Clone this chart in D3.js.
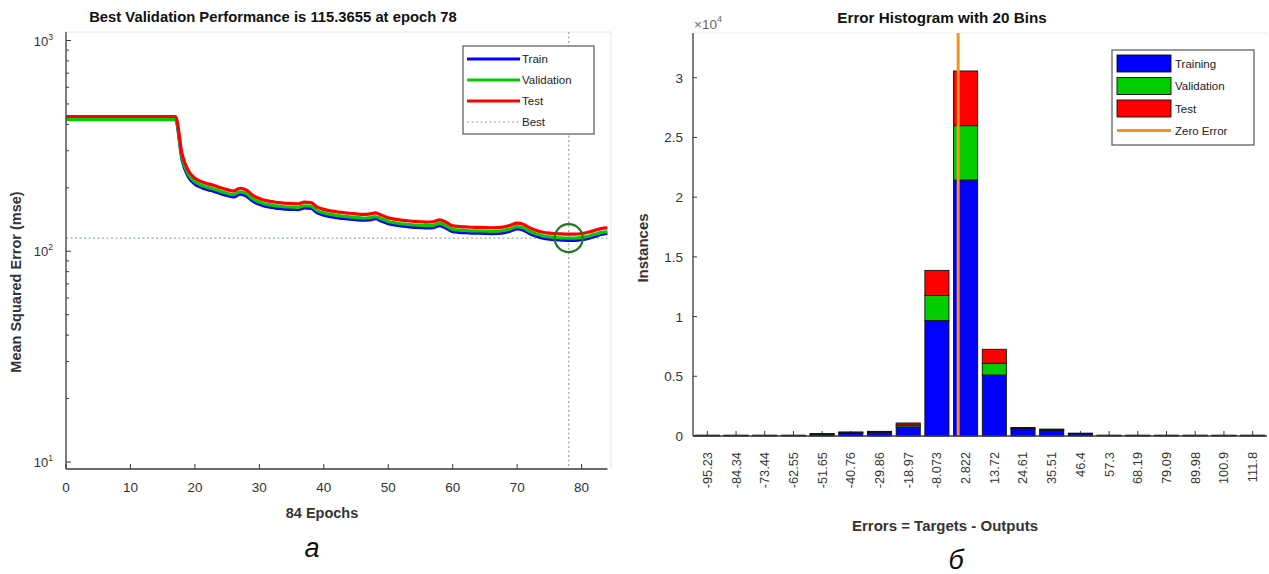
<!DOCTYPE html>
<html><head><meta charset="utf-8">
<script src="https://cdn.jsdelivr.net/npm/d3@7"></script>
<style>
body{margin:0;background:#fff;}
svg{display:block;}
text{font-family:"Liberation Sans",Arial,Helvetica,sans-serif;}
</style>
</head><body>
<svg id="c" width="1269" height="574"></svg>
<script>
// ---------- Data: performance (MSE per epoch 0..84) ----------
const trainPerf = [425,425,425,425,425,425,425,425,425,425,425,425,425,425,425,425,425,425,
  272,225,208,200.8,196,192.2,187.6,183.9,181,186.6,182.9,172.7,167,163.2,161.4,159.5,158.5,158,157.6,
  160.4,159.5,152,148.3,145.9,144.4,143,142.1,141.2,140.3,140.7,142.6,138.8,135.1,133.2,131.8,130.8,
  129.9,129.5,129,129.5,132.3,128.5,123.9,122.9,122.4,122,121.8,121.5,121.3,121.5,122.4,124.8,127.6,
  125.7,121,117.8,115.4,114.1,113.4,112.9,112.6,112.7,113.5,115,117.5,120,121.5];
const valPerf = [421,421,421,421,421,421,421,421,421,421,421,421,421,421,421,421,421,421,
  279,231,213.5,205.8,201,197,192.3,188.5,185.6,191.3,187.5,177,171.2,167.3,165.4,163.5,162.5,162,161.5,
  164.4,163.5,155.8,152,149.5,148,146.6,145.7,144.7,143.8,144.2,146.2,142.3,138.5,136.5,135.1,134.1,
  133.2,132.7,132.2,132.7,135.6,131.7,127,126,125.5,125,124.8,124.5,124.3,124.5,125.5,127.9,130.8,
  128.8,124,120.7,118.3,117,116.2,115.7,115.3655,115.5,116.3,117.8,120.2,122.6,123.5];
const testPerf = [436,436,436,436,436,436,436,436,436,436,436,436,436,436,436,436,436,436,
  290,240,222,214,209,205,200,196,193,199,195,184,178,174,172,170,169,168.5,168,
  171,170,162,158,155.5,154,152.5,151.5,150.5,149.5,150,152,148,144,142,140.5,139.5,
  138.5,138,137.5,138,141,137,132,131,130.5,130,129.8,129.5,129.3,129.5,130.5,133,136,
  134,129,125.5,123,121.8,121.2,120.8,120.5,120.6,121.4,123,125.5,128,129];
const bestEpoch = 78;
const bestVal = 115.3655;
const perfXTicks = [0,10,20,30,40,50,60,70,80];
const perfYMajor = [10,100,1000];
const perfYMinor = [20,30,40,50,60,70,80,90,200,300,400,500,600,700,800,900];
const perfYExp = ["1","2","3"];

// ---------- Data: error histogram ----------
const binCenters = [-95.23,-84.34,-73.44,-62.55,-51.65,-40.76,-29.86,-18.97,-8.073,2.822,13.72,24.61,35.51,46.4,57.3,68.19,79.09,89.98,100.9,111.8];
const binLabels = ["-95.23","-84.34","-73.44","-62.55","-51.65","-40.76","-29.86","-18.97","-8.073","2.822","13.72","24.61","35.51","46.4","57.3","68.19","79.09","89.98","100.9","111.8"];
const histTrain = [45,45,45,45,140,260,300,760,9670,21440,5110,580,460,180,45,45,45,45,45,45];
const histVal   = [10,10,10,10,30,40,45,160,2100,4550,980,60,60,30,10,10,10,10,10,10];
const histTest  = [10,10,10,10,30,40,45,170,2100,4580,1170,70,60,30,10,10,10,10,10,10];
const histYTicks = [0,5000,10000,15000,20000,25000,30000];
const histYLabels = ["0","0.5","1","1.5","2","2.5","3"];

// ---------- Drawing ----------
const svg = d3.select("#c");
const AX = "#3a3a3a";

// ===== Left: performance =====
const L = {x0:66, x1:607.4, yTop:32, yBot:469};
const xL = d3.scaleLinear().domain([0,84]).range([L.x0, L.x1]);
const yL = d3.scaleLog().domain([10,1000]).range([462,40.5]);
const gl = svg.append("g");

// faint box
gl.append("line").attr("x1",L.x0).attr("x2",611).attr("y1",L.yTop).attr("y2",L.yTop).attr("stroke","#e6e6e6");
gl.append("line").attr("x1",611).attr("x2",611).attr("y1",L.yTop).attr("y2",L.yBot).attr("stroke","#e6e6e6");

// best lines
gl.append("line").attr("x1",L.x0).attr("x2",L.x1).attr("y1",yL(bestVal)).attr("y2",yL(bestVal))
  .attr("stroke","#8db58d").attr("stroke-width",1.4).attr("stroke-dasharray","2,2.5");
gl.append("line").attr("x1",xL(bestEpoch)).attr("x2",xL(bestEpoch)).attr("y1",L.yTop).attr("y2",L.yBot)
  .attr("stroke","#a0a0a0").attr("stroke-width",1.2).attr("stroke-dasharray","2,2.5");

// curves
const lineGen = d3.line().x((d,i)=>xL(i)).y(d=>yL(d)).curve(d3.curveMonotoneX);
[[trainPerf,"#0000ff"],[valPerf,"#00cc00"],[testPerf,"#ff0000"]].forEach(([arr,col])=>{
  gl.append("path").datum(arr).attr("d",lineGen).attr("fill","none")
    .attr("stroke",col).attr("stroke-width",3.2).attr("stroke-linejoin","round");
});

// circle at best
gl.append("circle").attr("cx",xL(bestEpoch)).attr("cy",yL(bestVal)).attr("r",14)
  .attr("fill","none").attr("stroke","#1c7a1c").attr("stroke-width",2.2);

// axes lines
gl.append("line").attr("x1",L.x0).attr("x2",L.x0).attr("y1",L.yTop).attr("y2",L.yBot).attr("stroke",AX).attr("stroke-width",1.3);
gl.append("line").attr("x1",L.x0).attr("x2",L.x1).attr("y1",L.yBot).attr("y2",L.yBot).attr("stroke",AX).attr("stroke-width",1.5);

// x ticks
perfXTicks.forEach(t=>{
  gl.append("line").attr("x1",xL(t)).attr("x2",xL(t)).attr("y1",L.yBot).attr("y2",L.yBot-5).attr("stroke",AX);
  gl.append("text").attr("x",xL(t)).attr("y",492).attr("text-anchor","middle")
    .attr("font-size",13.5).attr("fill","#333").text(t);
});
// y ticks
perfYMajor.forEach((v,i)=>{
  gl.append("line").attr("x1",L.x0).attr("x2",L.x0+5).attr("y1",yL(v)).attr("y2",yL(v)).attr("stroke",AX);
  const t = gl.append("text").attr("x",53).attr("y",yL(v)+5).attr("text-anchor","end")
    .attr("font-size",13).attr("fill","#333");
  t.append("tspan").text("10");
  t.append("tspan").attr("dy",-6).attr("font-size",8.5).text(perfYExp[i]);
});
perfYMinor.forEach(v=>{
  gl.append("line").attr("x1",L.x0).attr("x2",L.x0+3).attr("y1",yL(v)).attr("y2",yL(v)).attr("stroke",AX);
});

// titles / labels
gl.append("text").attr("x",273).attr("y",22).attr("text-anchor","middle")
  .attr("font-size",14.8).attr("font-weight","bold").attr("fill","#111")
  .text("Best Validation Performance is 115.3655 at epoch 78");
gl.append("text").attr("x",322).attr("y",518).attr("text-anchor","middle")
  .attr("font-size",14.5).attr("font-weight","bold").attr("fill","#333").text("84 Epochs");
gl.append("text").attr("transform","translate(21,282) rotate(-90)").attr("text-anchor","middle")
  .attr("font-size",14.5).attr("font-weight","bold").attr("fill","#333").text("Mean Squared Error (mse)");

// legend (left)
const lg = gl.append("g");
lg.append("rect").attr("x",463).attr("y",46).attr("width",131).attr("height",88)
  .attr("fill","#fff").attr("stroke","#555").attr("stroke-width",1.2);
const leftLeg = [["Train","#0000ff",false],["Validation","#00cc00",false],["Test","#ff0000",false],["Best","#999",true]];
leftLeg.forEach((d,i)=>{
  const y = 59 + i*21;
  lg.append("line").attr("x1",467).attr("x2",520).attr("y1",y).attr("y2",y)
    .attr("stroke",d[1]).attr("stroke-width",d[2]?1.2:3.2).attr("stroke-dasharray",d[2]?"2,2.5":null);
  lg.append("text").attr("x",522).attr("y",y+4).attr("font-size",11.5).attr("fill","#222").text(d[0]);
});

// caption a
svg.append("text").attr("x",312).attr("y",557).attr("text-anchor","middle")
  .attr("font-family","'Liberation Serif','Times New Roman',serif").attr("font-style","italic")
  .attr("font-size",27).attr("fill","#111").text("а");

// ===== Right: histogram =====
const R = {x0:693, x1:1267, yTop:33, yBot:436};
const xR = d3.scaleLinear().domain([-100.68,117.25]).range([R.x0, R.x1]);
const yR = d3.scaleLinear().domain([0,33750]).range([R.yBot, R.yTop]);
const gr = svg.append("g");
const binW = (xR(binCenters[1]) - xR(binCenters[0]));
const barW = binW*0.84;

// faint box
gr.append("line").attr("x1",R.x0).attr("x2",R.x1).attr("y1",R.yTop).attr("y2",R.yTop).attr("stroke","#efefef");

// x ticks (under bars)
binCenters.forEach(c=>{
  gr.append("line").attr("x1",xR(c)).attr("x2",xR(c)).attr("y1",R.yBot).attr("y2",R.yBot-5).attr("stroke",AX);
});

// stacked bars
const stackData = binCenters.map((c,i)=>({c, tr:histTrain[i], va:histVal[i], te:histTest[i]}));
stackData.forEach(d=>{
  const segs = [[0,d.tr,"#0000ff"],[d.tr,d.tr+d.va,"#00cc00"],[d.tr+d.va,d.tr+d.va+d.te,"#ff0000"]];
  segs.forEach(s=>{
    gr.append("rect").attr("x",xR(d.c)-barW/2).attr("width",barW)
      .attr("y",yR(s[1])).attr("height",Math.max(0,yR(s[0])-yR(s[1])))
      .attr("fill",s[2]).attr("stroke","#111").attr("stroke-width",0.9);
  });
});

// zero error line
gr.append("line").attr("x1",xR(0)).attr("x2",xR(0)).attr("y1",R.yTop).attr("y2",R.yBot)
  .attr("stroke","#f7941d").attr("stroke-width",3);

// axes
gr.append("line").attr("x1",R.x0).attr("x2",R.x0).attr("y1",R.yTop).attr("y2",R.yBot).attr("stroke",AX).attr("stroke-width",1.3);
gr.append("line").attr("x1",R.x0).attr("x2",R.x1).attr("y1",R.yBot).attr("y2",R.yBot).attr("stroke",AX).attr("stroke-width",1.5);

histYTicks.forEach((v,i)=>{
  gr.append("line").attr("x1",R.x0).attr("x2",R.x0+4).attr("y1",yR(v)).attr("y2",yR(v)).attr("stroke",AX);
  gr.append("text").attr("x",683).attr("y",yR(v)+5).attr("text-anchor","end")
    .attr("font-size",13.5).attr("fill","#333").text(histYLabels[i]);
});
// x10^4
const ex = gr.append("text").attr("x",694).attr("y",29).attr("font-size",13.5).attr("fill","#666");
ex.append("tspan").text("×10");
ex.append("tspan").attr("dy",-7).attr("font-size",9).text("4");

// rotated bin labels
binCenters.forEach((c,i)=>{
  gr.append("text").attr("transform",`translate(${xR(c)+4.5},452) rotate(-90)`)
    .attr("text-anchor","end").attr("font-size",12.8).attr("fill","#333").text(binLabels[i]);
});

// titles
gr.append("text").attr("x",942).attr("y",23).attr("text-anchor","middle")
  .attr("font-size",15.2).attr("font-weight","bold").attr("fill","#111").text("Error Histogram with 20 Bins");
gr.append("text").attr("x",945).attr("y",531).attr("text-anchor","middle")
  .attr("font-size",15).attr("font-weight","bold").attr("fill","#333").text("Errors = Targets - Outputs");
gr.append("text").attr("transform","translate(648,248) rotate(-90)").attr("text-anchor","middle")
  .attr("font-size",15).attr("font-weight","bold").attr("fill","#333").text("Instances");

// legend (right)
const rg = gr.append("g");
rg.append("rect").attr("x",1112).attr("y",50).attr("width",142).attr("height",95)
  .attr("fill","#fff").attr("stroke","#555").attr("stroke-width",1.2);
const rightLeg = [["Training","#0000ff"],["Validation","#00cc00"],["Test","#ff0000"]];
rightLeg.forEach((d,i)=>{
  const y = 55 + i*22.5;
  rg.append("rect").attr("x",1117).attr("y",y).attr("width",54).attr("height",17)
    .attr("fill",d[1]).attr("stroke","#111").attr("stroke-width",0.9);
  rg.append("text").attr("x",1175).attr("y",y+12.5).attr("font-size",11.5).attr("fill","#222").text(d[0]);
});
rg.append("line").attr("x1",1117).attr("x2",1171).attr("y1",130.5).attr("y2",130.5)
  .attr("stroke","#f7941d").attr("stroke-width",3);
rg.append("text").attr("x",1175).attr("y",134.5).attr("font-size",11.5).attr("fill","#222").text("Zero Error");

// caption б
svg.append("text").attr("x",956).attr("y",569).attr("text-anchor","middle")
  .attr("font-family","'Liberation Serif','Times New Roman',serif").attr("font-style","italic")
  .attr("font-size",27).attr("fill","#111").text("б");
</script>
</body></html>
